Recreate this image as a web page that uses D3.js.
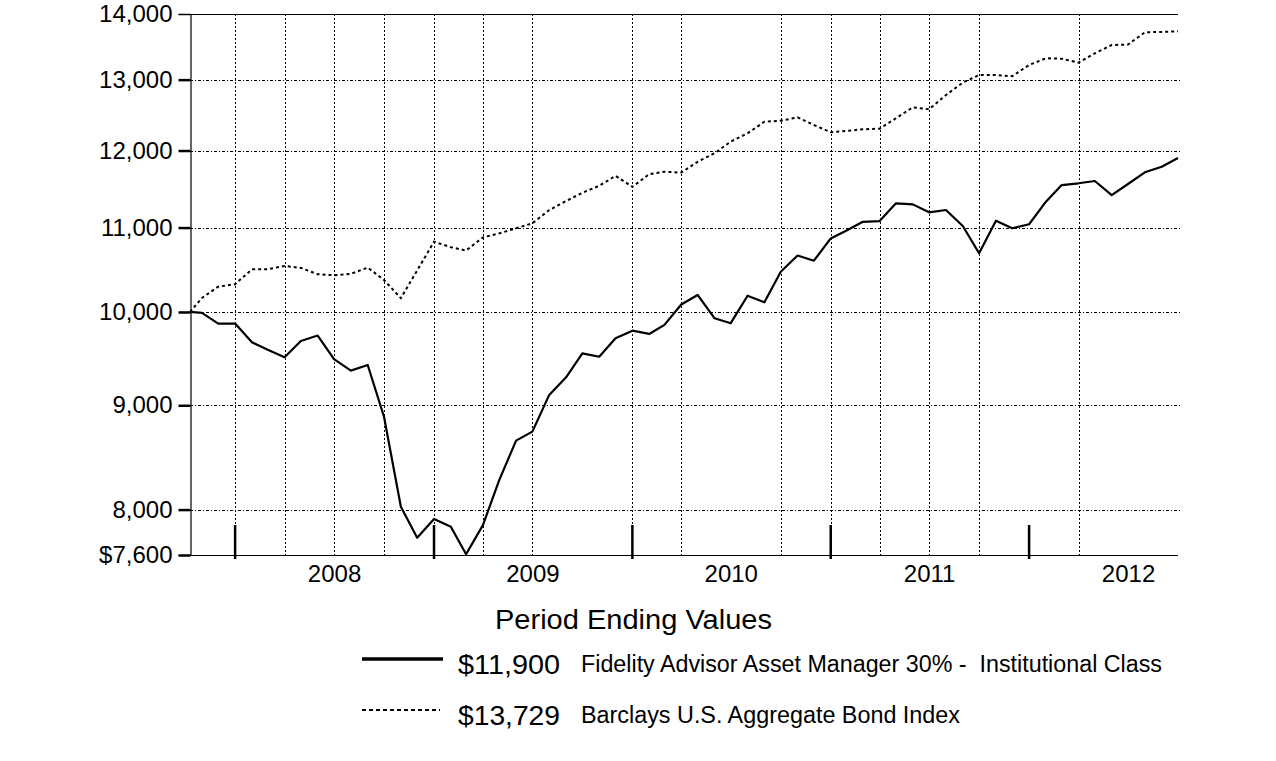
<!DOCTYPE html>
<html lang="en">
  <head>
    <meta charset="UTF-8" />
    <title>Period Ending Values</title>
    <script src="https://d3js.org/d3.v7.min.js"></script>
    <style>
      body {
        margin: 0;
        background: #fff;
        font-family: "Liberation Sans", Arial, sans-serif;
      }
      text {
        white-space: pre;
      }
    </style>
  </head>
  <body>
    <div id="chart"></div>
    <script>
      const width = 1276;
      const height = 761;

      // first entry is the inception date, then month-ends
      const dates = [
        "2007-10-09", "2007-10-31", "2007-11-30", "2007-12-31",
        "2008-01-31", "2008-02-29", "2008-03-31", "2008-04-30", "2008-05-31", "2008-06-30",
        "2008-07-31", "2008-08-31", "2008-09-30", "2008-10-31", "2008-11-30", "2008-12-31",
        "2009-01-31", "2009-02-28", "2009-03-31", "2009-04-30", "2009-05-31", "2009-06-30",
        "2009-07-31", "2009-08-31", "2009-09-30", "2009-10-31", "2009-11-30", "2009-12-31",
        "2010-01-31", "2010-02-28", "2010-03-31", "2010-04-30", "2010-05-31", "2010-06-30",
        "2010-07-31", "2010-08-31", "2010-09-30", "2010-10-31", "2010-11-30", "2010-12-31",
        "2011-01-31", "2011-02-28", "2011-03-31", "2011-04-30", "2011-05-31", "2011-06-30",
        "2011-07-31", "2011-08-31", "2011-09-30", "2011-10-31", "2011-11-30", "2011-12-31",
        "2012-01-31", "2012-02-29", "2012-03-31", "2012-04-30", "2012-05-31", "2012-06-30",
        "2012-07-31", "2012-08-31", "2012-09-30"
      ];

      const fundValues = [
        10000, 9990, 9870, 9870,
        9664, 9582, 9502, 9678, 9737, 9481, 9359, 9419, 8884, 8026, 7750, 7916,
        7847, 7606, 7861, 8271, 8648, 8736, 9106, 9289, 9544, 9507, 9707, 9791,
        9755, 9855, 10085, 10194, 9930, 9874, 10185, 10110, 10465, 10658, 10596, 10866,
        10969, 11072, 11081, 11305, 11292, 11191, 11220, 11019, 10685, 11085, 10991, 11041,
        11326, 11541, 11564, 11594, 11411, 11555, 11708, 11782, 11900
      ];

      const indexValues = [
        10000, 10160, 10290, 10318,
        10494, 10494, 10534, 10510, 10435, 10423, 10440, 10514, 10368, 10157, 10480, 10826,
        10759, 10718, 10879, 10928, 10991, 11053, 11220, 11334, 11441, 11531, 11661, 11518,
        11684, 11715, 11705, 11848, 11963, 12121, 12236, 12397, 12410, 12458, 12351, 12250,
        12270, 12291, 12300, 12445, 12600, 12572, 12776, 12956, 13068, 13068, 13050, 13217,
        13317, 13310, 13252, 13392, 13518, 13525, 13713, 13720, 13729
      ];

      const yTicks = [7600, 8000, 9000, 10000, 11000, 12000, 13000, 14000];
      const years = ["2008", "2009", "2010", "2011", "2012"];
      const yearEnds = ["2007-12-31", "2008-12-31", "2009-12-31", "2010-12-31", "2011-12-31"];
      // quarter-end grid lines as drawn in the original (a few are absent)
      const gridDates = [
        "2007-12-31", "2008-03-31", "2008-06-30", "2008-09-30", "2008-12-31",
        "2009-03-31", "2009-06-30", "2009-12-31", "2010-03-31", "2010-09-30",
        "2010-12-31", "2011-03-31", "2011-06-30", "2011-09-30", "2012-03-31"
      ];

      const legendItems = [
        { value: "$11,900", name: "Fidelity Advisor Asset Manager 30% -  Institutional Class" },
        { value: "$13,729", name: "Barclays U.S. Aggregate Bond Index" }
      ];

      const parse = d3.utcParse("%Y-%m-%d");
      const mLeft = 190, mRight = 1178, mTop = 14, mBottom = 555;

      const x = d3.scaleUtc()
        .domain([parse("2007-10-09"), parse("2012-09-30")])
        .range([mLeft, mRight]);

      const y = d3.scaleLog()
        .domain([7600, 14000])
        .range([mBottom, mTop]);

      const svg = d3.select("#chart")
        .append("svg")
        .attr("width", width)
        .attr("height", height);

      // horizontal grid
      svg.append("g")
        .selectAll("line")
        .data(yTicks.filter((d) => d !== 7600 && d !== 14000))
        .join("line")
        .attr("x1", mLeft)
        .attr("x2", mRight + 2)
        .attr("y1", (d) => Math.round(y(d)) + 0.5)
        .attr("y2", (d) => Math.round(y(d)) + 0.5)
        .attr("stroke", "#000")
        .attr("stroke-width", 1)
        .attr("stroke-dasharray", "3,2,1,2");

      // vertical grid
      svg.append("g")
        .selectAll("line")
        .data(gridDates)
        .join("line")
        .attr("x1", (d) => Math.round(x(parse(d))) + 0.5)
        .attr("x2", (d) => Math.round(x(parse(d))) + 0.5)
        .attr("y1", mTop)
        .attr("y2", mBottom)
        .attr("stroke", "#000")
        .attr("stroke-width", 1)
        .attr("stroke-dasharray", "2,2");

      // frame: top, left, bottom
      svg.append("line")
        .attr("x1", mLeft).attr("x2", mRight)
        .attr("y1", mTop + 0.5).attr("y2", mTop + 0.5)
        .attr("stroke", "#000");

      const yAxis = svg.append("g")
        .attr("transform", `translate(${mLeft + 0.5},0)`)
        .call(
          d3.axisLeft(y)
            .tickValues(yTicks)
            .tickSize(12)
            .tickPadding(6)
            .tickFormat((d) => (d === 7600 ? "$7,600" : d3.format(",")(d)))
        );
      yAxis.select(".domain").attr("stroke", "#000").attr("stroke-width", 1.2);
      yAxis.selectAll(".tick line")
        .attr("stroke", "#000")
        .attr("stroke-width", (d) => (d === 14000 ? 1.5 : 2.5));
      yAxis.selectAll(".tick text")
        .attr("font-family", "Liberation Sans, Arial, sans-serif")
        .attr("font-size", 24)
        .attr("fill", "#000");

      svg.append("line")
        .attr("x1", mLeft).attr("x2", mRight)
        .attr("y1", mBottom + 0.5).attr("y2", mBottom + 0.5)
        .attr("stroke", "#000")
        .attr("stroke-width", 1.2);

      // year boundary ticks
      svg.append("g")
        .selectAll("line")
        .data(yearEnds)
        .join("line")
        .attr("x1", (d) => x(parse(d)))
        .attr("x2", (d) => x(parse(d)))
        .attr("y1", 525)
        .attr("y2", 559)
        .attr("stroke", "#000")
        .attr("stroke-width", 2.5);

      svg.append("g")
        .selectAll("text")
        .data(years)
        .join("text")
        .attr("x", (d) => x(parse(d + "-07-01")))
        .attr("y", 582)
        .attr("text-anchor", "middle")
        .attr("font-size", 24)
        .text((d) => d);

      // series
      const line = d3.line()
        .x((d) => x(parse(d[0])))
        .y((d) => y(d[1]));

      svg.append("path")
        .datum(d3.zip(dates, indexValues))
        .attr("fill", "none")
        .attr("stroke", "#000")
        .attr("stroke-width", 2)
        .attr("stroke-dasharray", "3,3")
        .attr("d", line);

      svg.append("path")
        .datum(d3.zip(dates, fundValues))
        .attr("fill", "none")
        .attr("stroke", "#000")
        .attr("stroke-width", 2.2)
        .attr("stroke-linejoin", "round")
        .attr("d", line);

      // legend
      svg.append("text")
        .attr("x", 495)
        .attr("y", 629)
        .attr("font-size", 27)
        .attr("textLength", 277)
        .attr("lengthAdjust", "spacingAndGlyphs")
        .text("Period Ending Values");

      const legend = svg.append("g")
        .selectAll("g")
        .data(legendItems)
        .join("g")
        .attr("transform", (d, i) => `translate(0,${i * 51})`);

      legend.append("line")
        .attr("x1", 362)
        .attr("x2", (d, i) => (i === 0 ? 443 : 440))
        .attr("y1", 659)
        .attr("y2", 659)
        .attr("stroke", "#000")
        .attr("stroke-width", (d, i) => (i === 0 ? 3.5 : 2))
        .attr("stroke-dasharray", (d, i) => (i === 0 ? null : "4,3"));

      legend.append("text")
        .attr("x", 458)
        .attr("y", 674)
        .attr("font-size", 28)
        .attr("textLength", 102)
        .attr("lengthAdjust", "spacingAndGlyphs")
        .text((d) => d.value);

      legend.append("text")
        .attr("x", 581)
        .attr("y", 672)
        .attr("font-size", 23)
        .attr("textLength", (d, i) => (i === 0 ? 581 : 379))
        .attr("lengthAdjust", "spacingAndGlyphs")
        .text((d) => d.name);
    </script>
  </body>
</html>
